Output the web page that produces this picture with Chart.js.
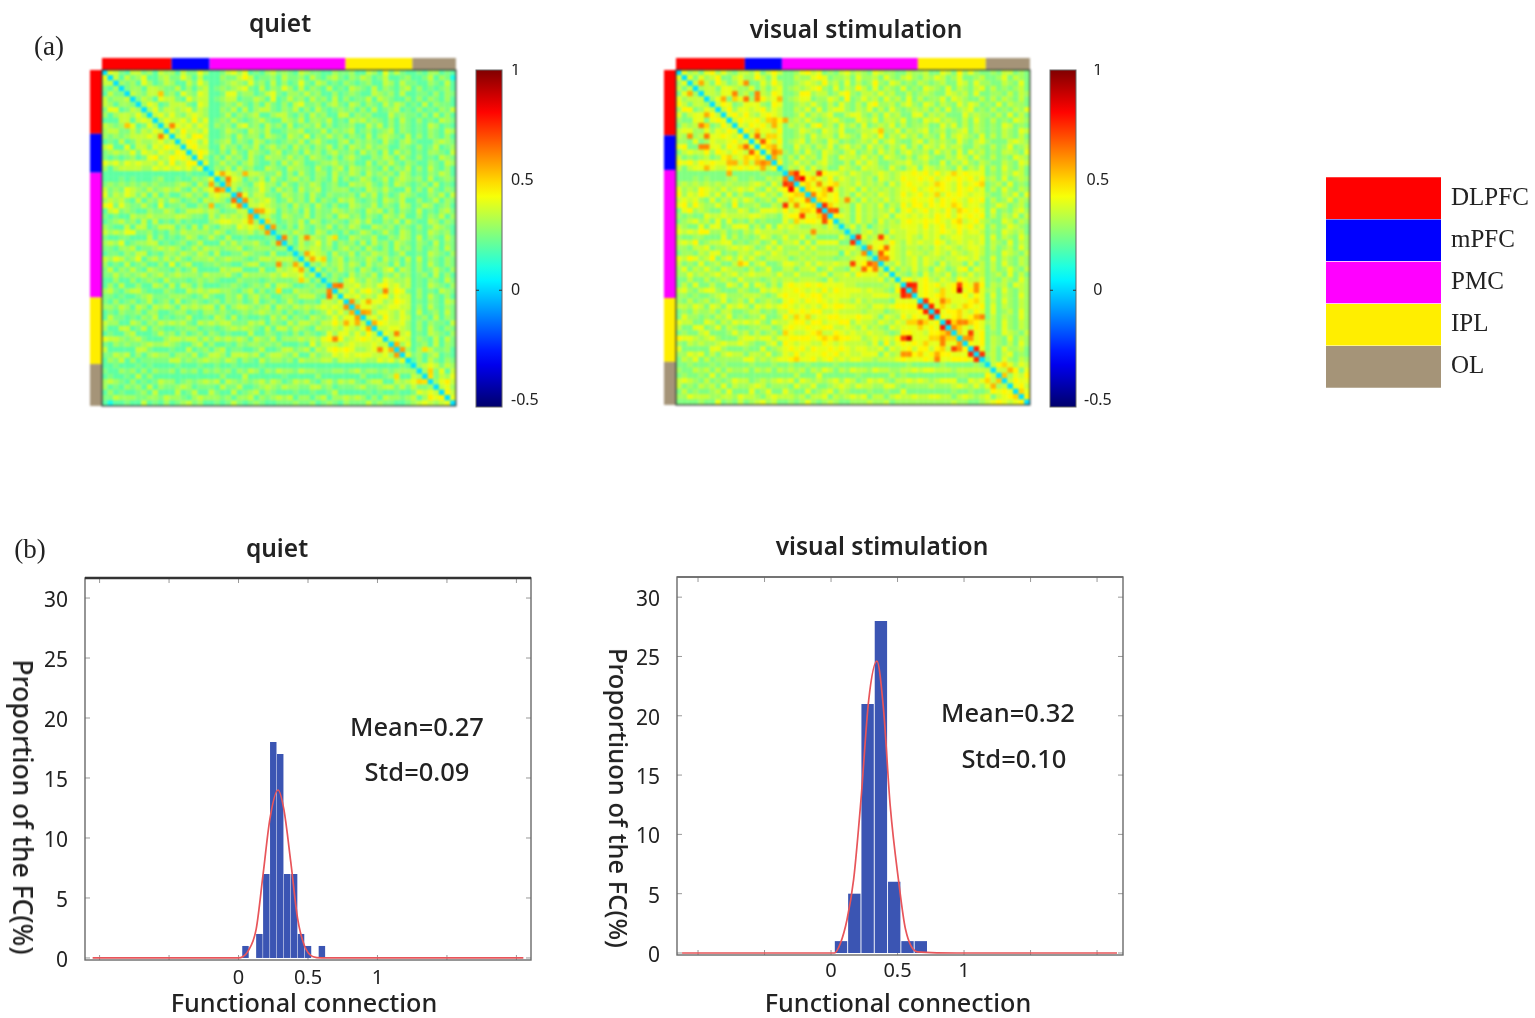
<!DOCTYPE html>
<html><head><meta charset="utf-8">
<script src="https://cdn.jsdelivr.net/npm/chart.js@4"></script>
<style>
html,body{margin:0;padding:0;background:#fff;width:1535px;height:1018px;overflow:hidden}
#page{position:absolute;left:0;top:0;width:1535px;height:1018px;filter:blur(.45px)}
canvas{position:absolute}
.heat{filter:blur(.8px)}
.t{position:absolute;white-space:nowrap;transform:translate(-50%,-50%);font-family:"Noto Sans",sans-serif;color:#222}
</style></head><body><div id="page"></div>
<script>
// ---------- Region groups (number of cells per region) ----------
const regionNames = ['DLPFC','mPFC','PMC','IPL','OL'];
const regionColors = ['#ff0000','#0000ff','#ff00ff','#ffee00','#a59478'];
const regionSizes = [12,7,24,12,8];
const legendValues = [1,1,1,1,1];
// widths of the coloured strips along each edge, in cells
const quietStripTop = [12.4,6.75,24.2,11.9,7.75];
const quietStripLeft = [11.96,7.3,23.4,12.5,7.84];
const visualStripTop = [12.25,6.6,24.2,12.1,7.85];
const visualStripLeft = [12.3,6.5,24.1,12,8.1];

// ---------- Connectivity matrices: upper triangle, one char per cell, base-36 in units of 0.05 ----------
const quietRows = [
"87547756476 6475586 445786845467565476554465 564476485754 45466454",
"7475684467 5586474 446557974556475564754675 465764574456 44574652",
"656486457 6447586 445676585647464585476454 654564476475 54465474",
"56647765 5746467 456567854746586474654745 476547465467 46454564",
"7657785 6486587 445885664578546657564464 565447656474 45546465",
"576487 7548677 456774557648457564756474 645574765446 46465464",
"68745 7775487 445657546475464785564675 476465475764 54746554",
"6857 7678576 446574746775465746475456 564647456745 46454657",
"786 8657876 445746567446775464756447 746564447565 54647464",
"68 7786968 456575456754476574665745 476756546475 46454765",
"7 6878687 465647856475647456574645 564475746465 45476454",
"8697768 445765476574456674557465 674564567465 45465476",
"786997 445647566476547658465756 465474676547 46465464",
"79868 456746547645456574675446 746565475467 54446765",
"8977 447564657467564756465746 476575664465 46457456",
"798 546475476546745647564675 564756474756 45466547",
"96 464756475476657564765464 675446576475 46454765",
"8 457564675446475764456675 564474657546 54465476",
"465747564476547665475467 476565474657 46475464",
"86876477655746475466475 576475656476 45465764",
"5787465747546756465474 645764574676 56474565",
"676547866475465764564 476675464765 45647454",
"7465686475647567456 645476575447 46475465",
"685775547656475465 564757464576 54465747",
"576786457564746547 675456476574 46457465",
"77876564756475464 476557465476 45764564",
"7687465647465576 565476746465 47454675",
"675476557465647 756465476574 46465746",
"76456574764565 467574465747 54476465",
"7546475465746 576447656465 46457654",
"565765476454 645764575476 45476564",
"56476765764 476557446576 47465475",
"6475685746 564747564765 46547465",
"576775646 756475464756 46456475",
"56876475 574657664574 45476546",
"7687467 465576475647 47465465",
"657567 576475664746 46475465",
"74657 564764578476 46457546",
"6465 475657465756 45647464",
"564 786576587667 45465475",
"76 778676897867 45476546",
"7 686897687985 46454765",
"878676896877 46475464",
"76878867987 45465476",
"7887678877 46475465",
"876887686 47456475",
"78697687 45647465",
"7987786 46465547",
"778876 46475465",
"87678 45476546",
"7887 46547475",
"768 45647465",
"76 46475564",
"8 56467454",
"46475465",
"6787576",
"665847",
"75768",
"6877",
"786",
"97",
"8"];
const quietPeaks = [[10,12,.62],[4,10,.52],[19,21,.56],[20,22,.62],[19,25,.54],[21,22,.55],[23,24,.65],[24,25,.6],[26,27,.58],[26,28,.56],[28,29,.5],[29,30,.58],[31,32,.62],[31,36,.6],[31,41,.48],[34,36,.56],[35,37,.56],[35,39,.5],[40,42,.65],[40,41,.62],[41,50,.62],[43,44,.6],[43,47,.55],[44,45,.55],[45,47,.55],[45,46,.58],[47,48,.55],[49,52,.62],[51,52,.55],[52,53,.58],[52,57,.48],[56,58,.5],[57,58,.48],[58,61,.46]];

const visualRows = [
"86758968657 7685797 556897856578676587665576 675587596865 56577565",
"8586795578 6697585 557668985667586675865786 576875685567 55685765",
"767597568 7558697 556787696758575696587565 765675587586 65576585",
"67758876 6857578 567678965857697585765856 587658576578 57565675",
"7768896 7597698 556996775689657768675575 676558767585 56657576",
"687598 8659788 567885668759568675867585 756685876557 57576575",
"79856 8886598 556768657586575896675786 587576586875 65857665",
"7968 8789687 557685857886576857586567 675758567856 57565768",
"897 9768987 556857678557886575867558 857675558676 65758575",
"79 8897a79 567686567865587685776856 587867657586 57565876",
"8 7989798 576758967586758567685756 675586857576 56587565",
"97a8879 556876587685567785668576 785675678576 56576587",
"897aa8 556758677587658769576867 576585787658 57576575",
"8a979 567857658756567685786557 857676586578 65557876",
"9a88 558675768578675867576857 587686775576 57568567",
"8a9 657586587657856758675786 675867585867 56577658",
"a7 575867586587768675876575 786557687586 57565876",
"9 568675786557586875567786 675585768657 65576587",
"576858675587658776586578 587676585768 57586575",
"98987a98876876678767889 897978a8988 56576875",
"8a9a879687676758767988 989789898979 67585676",
"9a8989a77686767586898 878a9879789a 56758565",
"a98a9867858676767889 789898798978 57586576",
"89a8967586768767978 978a79898788 65576858",
"a98976758676867889 889798987989 57568576",
"9a877586768576979 979898a97887 56875675",
"a867586767685897 8978797a9898 58565786",
"987586767858878 787989798989 57576857",
"67586758676898 8989879a7897 65587576",
"6857467677888 797897898978 57568765",
"657867587788 787898797887 56587675",
"78678867787 687867887778 58576586",
"6788797687 877986787878 57658576",
"789987677 676878767887 57567586",
"67987687 767876876787 56587657",
"7987678 687767788786 58576576",
"768678 687586775857 57586576",
"85768 675875689587 57568657",
"7657 586768576867 56758575",
"897 897687698778 56576586",
"88 8989789a9889 57675876",
"8 8987a89a8998 67586576",
"8989a8889798 58576586",
"7989a8889a8 57586576",
"98a878a989 58576576",
"9899a8798 58567586",
"989a8989 57576586",
"8a98a98 67586576",
"9a8798 57586576",
"a8989 56587657",
"9a89 57658576",
"989 57657586",
"98 57586675",
"9 67578565",
"57586576",
"79a8687",
"776958",
"86879",
"7988",
"897",
"a8",
"9"];
const visualPeaks = [[2,4,.56],[2,12,.6],[4,10,.62],[5,8,.56],[5,10,.5],[5,12,.64],[4,14,.62],[5,14,.62],[5,18,.54],[9,17,.54],[10,17,.55],[9,19,.56],[12,14,.66],[13,15,.68],[15,17,.62],[15,18,.56],[16,17,.56],[14,17,.55],[19,21,.74],[20,22,.82],[19,25,.74],[21,25,.6],[22,27,.72],[24,30,.6],[23,24,.62],[25,26,.74],[26,27,.68],[26,28,.7],[20,21,.7],[19,20,.62],[31,32,.74],[31,36,.72],[11,36,.52],[33,37,.66],[34,36,.68],[35,37,.62],[33,34,.6],[35,36,.6],[40,41,.78],[40,42,.76],[41,42,.7],[41,50,.88],[40,53,.6],[41,53,.6],[40,50,.72],[43,44,.74],[44,45,.76],[45,46,.76],[43,47,.62],[47,48,.78],[47,50,.62],[47,51,.62],[49,52,.72],[52,53,.76],[53,54,.74],[46,54,.62],[46,53,.56],[48,49,.6],[50,51,.58],[50,52,.6],[56,59,.55],[57,58,.52]];

// ---------- Colour bar ticks ----------
const colorbarTicks = [-0.5,0,0.5,1];

// ---------- Histograms (x = bin centre, y = proportion %) ----------
const quietBinCentres = [0.05,0.15,0.2,0.25,0.3,0.35,0.4,0.45,0.5,0.6];
const quietBinHeights = [1,2,7,18,17,7,7,2,1,1];
const quietFitX = [-1.05,-0.5,0,0.03,0.065,0.127,0.177,0.226,0.284,0.326,0.376,0.425,0.475,0.537,0.6,1,2.05];
const quietFitY = [0,0,0,0.1,0.5,2.4,7,11.6,14,12.4,8,3.3,1,0.1,0,0,0];
const visualBinCentres = [0.075,0.175,0.275,0.375,0.475,0.575,0.675];
const visualBinHeights = [1,5,21,28,6,1,1];
const visualFitX = [-1.12,-0.5,0,0.025,0.07,0.12,0.17,0.225,0.283,0.345,0.395,0.445,0.51,0.56,0.65,1,2.15];
const visualFitY = [0,0,0,0,0.8,2.8,6.2,12.9,21.3,24.6,20.5,12.4,5.9,2,0.1,0,0];
const yTicks = [0,5,10,15,20,25,30];

// ---------- helpers ----------
const N = regionSizes.reduce((a,b)=>a+b,0);
function jet(v){
  const t = (v+0.5)/1.5, c = x => Math.round(255*Math.max(0,Math.min(1,x)));
  return `rgb(${c(Math.min(4*t-1.5,-4*t+4.5))},${c(Math.min(4*t-0.5,-4*t+3.5))},${c(Math.min(4*t+0.5,-4*t+2.5))})`;
}
function buildMatrix(rows,peaks){
  const bounds=[]; regionSizes.reduce((a,b)=>{bounds.push(a+b);return a+b},0);
  const m=Array.from({length:N},()=>new Array(N).fill(0.25));
  rows.forEach((row,i)=>{
    let col=i+1;
    row.split(' ').forEach(seg=>{
      const end=bounds.find(b=>b>col)??N;
      for(let j=0;col<end;j++,col++){
        const ch=seg[Math.min(j,seg.length-1)];
        m[i][col]=m[col][i]=parseInt(ch,36)*0.05;
      }
    });
  });
  peaks.forEach(([a,b,v])=>{m[a][b]=m[b][a]=v;});
  for(let i=0;i<N;i++)m[i][i]=0.02;
  return m;
}
const page=document.getElementById('page');
function makeCanvas(l,t,w,h,cls){
  const d=document.createElement('canvas');
  d.width=w;d.height=h;d.style.cssText=`left:${l}px;top:${t}px;width:${w}px;height:${h}px`;
  if(cls)d.className=cls;page.appendChild(d);return d;
}
function text(s,x,y,size,extra){
  const d=document.createElement('div');d.className='t';d.textContent=s;
  d.style.left=x+'px';d.style.top=y+'px';d.style.fontSize=size+'px';
  if(extra)d.style.cssText+=';'+extra;page.appendChild(d);
}
const base={responsive:false,animation:false,devicePixelRatio:1,events:[],plugins:{legend:{display:false},tooltip:{enabled:false},title:{display:false}}};
const noPad=s=>{s.paddingTop=0;s.paddingBottom=0;s.paddingLeft=0;s.paddingRight=0};

function heatmap(l,t,w,h,matrix,stripTop,stripLeft){
  const pts=[];
  matrix.forEach((row,r)=>row.forEach((v,c)=>pts.push({x:c,y:r,v})));
  const stripPlugin={id:'strips',afterDraw(ch){
    const {ctx,chartArea:a,scales:{x,y}}=ch;let s=0;
    stripTop.forEach((n,i)=>{
      ctx.fillStyle=regionColors[i];
      const x0=x.getPixelForValue(s-.5),x1=x.getPixelForValue(s+n-.5);
      ctx.fillRect(x0,a.top-12,x1-x0,12);
      s+=n;
    });
    s=0;
    stripLeft.forEach((n,i)=>{
      ctx.fillStyle=regionColors[i];
      const y0=y.getPixelForValue(s-.5),y1=y.getPixelForValue(s+n-.5);
      ctx.fillRect(a.left-12,y0,12,y1-y0);
      s+=n;
    });
    ctx.strokeStyle='#333';ctx.lineWidth=1.2;ctx.strokeRect(a.left,a.top,a.right-a.left,a.bottom-a.top);
  }};
  new Chart(makeCanvas(l,t,w+18,h+18,'heat'),{type:'scatter',
    data:{datasets:[{data:pts,pointStyle:'rect',pointRadius:4.1,pointBorderWidth:0,
      pointBackgroundColor:c=>jet(c.raw.v)}]},
    options:{...base,layout:{padding:{left:15,top:15,right:3,bottom:3}},
      scales:{x:{type:'linear',display:false,min:-.5,max:N-.5},y:{type:'linear',display:false,reverse:true,min:-.5,max:N-.5}}},
    plugins:[stripPlugin]});
}
function colorbar(l,t,w,h,axisW,center){
  const grad=c=>{const a=c.chart.chartArea;if(!a)return '#888';
    const g=c.chart.ctx.createLinearGradient(0,a.bottom,0,a.top);
    for(let i=0;i<=24;i++)g.addColorStop(i/24,jet(-0.53+1.53*i/24));
    return g;};
  new Chart(makeCanvas(l-6,t-6,w+axisW+6,h+12),{type:'bar',
    data:{labels:['c'],datasets:[{data:[[-0.53,1]],backgroundColor:grad,barPercentage:1,categoryPercentage:1}]},
    options:{...base,layout:{padding:{left:6,top:6,bottom:6}},
      scales:{x:{display:false},
        y:{position:'right',min:-0.53,max:1,afterBuildTicks:s=>{s.ticks=colorbarTicks.map(v=>({value:v}))},
          afterFit:s=>{s.width=axisW;noPad(s)},grid:{display:false},border:{display:false},
          ticks:{color:'#222',padding:center?0:1,crossAlign:center?'center':'near',font:{family:'"Noto Sans"',size:16},callback:v=>String(v)}}}},
    plugins:[{id:'cbf',afterDraw(ch){const {ctx,chartArea:a,scales:{y}}=ch;
      ctx.strokeStyle='#666';ctx.lineWidth=1;ctx.strokeRect(a.left,a.top,a.right-a.left,a.bottom-a.top);
      const p=y.getPixelForValue(0);ctx.strokeStyle='#333';
      [[a.left,a.left+3],[a.right-3,a.right]].forEach(([u,v])=>{ctx.beginPath();ctx.moveTo(u,p);ctx.lineTo(v,p);ctx.stroke();});
    }}]});
}
function hist(plot,xr,yr,cx,cy,fx,fy,topDark,xPad){
  const [L,T,R,B]=plot;const cl=L-45,ct=T-20,cw=R-L+45+15,ch=B-T+20+40;
  new Chart(makeCanvas(cl,ct,cw,ch),{type:'bar',
    data:{datasets:[
      {type:'line',data:fx.map((x,i)=>({x,y:fy[i]})),borderColor:'#e8555a',borderWidth:1.7,pointRadius:0,cubicInterpolationMode:'monotone',order:0},
      {type:'bar',data:cx.map((x,i)=>({x,y:cy[i]})),backgroundColor:'#3b55b3',barPercentage:1,categoryPercentage:.93,order:1}]},
    options:{...base,layout:{padding:{top:20,right:15}},
      scales:{
        x:{type:'linear',offset:false,min:xr[0],max:xr[1],grid:{display:false},border:{display:false},afterFit:s=>{s.height=40;noPad(s)},
          ticks:{stepSize:.5,includeBounds:false,autoSkip:false,maxRotation:0,padding:xPad,color:'#222',font:{family:'"Noto Sans"',size:20},
            callback:v=>[0,.5,1].includes(v)?String(v):''}},
        y:{min:yr[0],max:yr[1],grid:{display:false},border:{display:false},afterFit:s=>{s.width=45;noPad(s)},
          afterBuildTicks:s=>{s.ticks=yTicks.map(v=>({value:v}))},
          ticks:{padding:9,labelOffset:3,color:'#222',font:{family:'"Noto Sans"',size:21}}}}},
    plugins:[{id:'frame',beforeDatasetsDraw(c){
      const {ctx,chartArea:a,scales:{x,y}}=c;ctx.save();ctx.strokeStyle='#999';ctx.lineWidth=1;
      x.ticks.forEach(t=>{const p=x.getPixelForValue(t.value);
        ctx.beginPath();ctx.moveTo(p,a.top);ctx.lineTo(p,a.top+5);ctx.moveTo(p,a.bottom);ctx.lineTo(p,a.bottom-5);ctx.stroke();});
      y.ticks.forEach(t=>{const p=y.getPixelForValue(t.value);
        ctx.beginPath();ctx.moveTo(a.left,p);ctx.lineTo(a.left+5,p);ctx.moveTo(a.right,p);ctx.lineTo(a.right-5,p);ctx.stroke();});
      ctx.restore();
    },afterDraw(c){
      const {ctx,chartArea:a}=c;ctx.save();ctx.strokeStyle='#6a6a6a';ctx.lineWidth=1.4;
      ctx.strokeRect(a.left,a.top,a.right-a.left,a.bottom-a.top);
      ctx.strokeStyle=topDark?'#333':'#6a6a6a';ctx.lineWidth=topDark?2.4:1.4;
      ctx.beginPath();ctx.moveTo(a.left,a.top);ctx.lineTo(a.right,a.top);ctx.stroke();ctx.restore();
    }}]});
}

// ---------- Panel (a) ----------
heatmap(87,55,355,337,buildMatrix(quietRows,quietPeaks),quietStripTop,quietStripLeft);
heatmap(661,55,355,336,buildMatrix(visualRows,visualPeaks),visualStripTop,visualStripLeft);
colorbar(476,70,26,337,48,false);
colorbar(1050,70,26,337,44,true);

// ---------- Legend ----------
new Chart(makeCanvas(1320,170,215,225),{type:'bar',
  data:{labels:regionNames,datasets:[{data:legendValues,backgroundColor:regionColors,barPercentage:1,categoryPercentage:.985}]},
  options:{...base,indexAxis:'y',layout:{padding:{left:6,top:7,bottom:7}},
    scales:{x:{display:false,min:0,max:1},
      y:{position:'right',grid:{display:false},border:{display:false},afterFit:s=>{s.width=94;noPad(s)},
        ticks:{padding:2,color:'#222',font:{family:'"Liberation Serif"',size:25}}}}}});

// ---------- Panel (b) ----------
hist([85,578,531,960],[-1.105,2.105],[-0.17,31.67],quietBinCentres,quietBinHeights,quietFitX,quietFitY,true,-2);
hist([677,577,1123,955],[-1.158,2.195],[-0.17,31.7],visualBinCentres,visualBinHeights,visualFitX,visualFitY,false,-4);

// ---------- Text ----------
text('(a)',49,46,27,'font-family:"Liberation Serif"');
text('(b)',30,549,27,'font-family:"Liberation Serif"');
const ttl='font-weight:600';
text('quiet',280,22,24.5,ttl);
text('visual stimulation',856,28,24.5,ttl);
text('quiet',277,547,24.5,ttl);
text('visual stimulation',882,545,24.5,ttl);
text('Mean=0.27',417,726,25.5,'font-weight:500');
text('Std=0.09',417,771,25.5,'font-weight:500');
text('Mean=0.32',1008,712,25.5,'font-weight:500');
text('Std=0.10',1014,758,25.5,'font-weight:500');
text('Functional connection',304,1002,25.2,'font-weight:500');
text('Functional connection',898,1002,25.2,'font-weight:500');
text('Proportion of the FC(%)',23,807,26.5,'font-weight:500;transform:translate(-50%,-50%) rotate(90deg)');
text('Proportiuon of the FC(%)',619,798,25.5,'font-weight:500;transform:translate(-50%,-50%) rotate(90deg)');
</script></body></html>
